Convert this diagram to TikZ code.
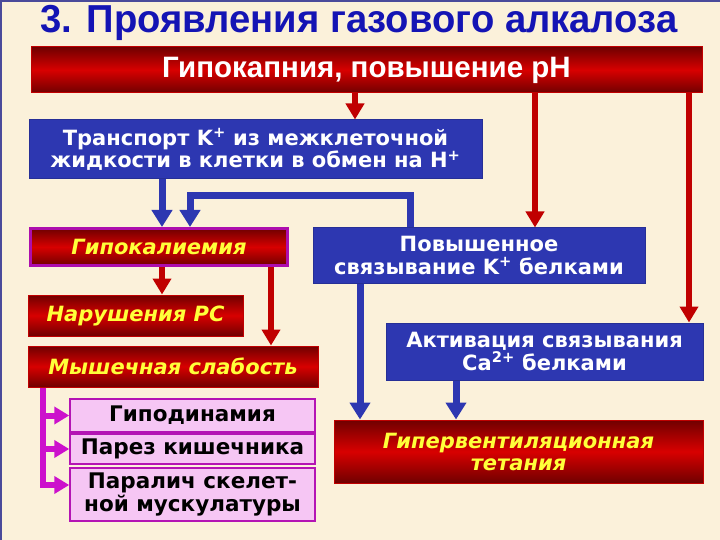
\documentclass[tikz,border=0pt]{standalone}
\usepackage{fontspec}
\setmainfont{DejaVu Sans}
\newfontfamily\titlefont[FakeStretch=0.98]{Liberation Sans}
\newfontfamily\arialfont{Liberation Sans}
\usetikzlibrary{arrows.meta}
\definecolor{cbg}{HTML}{FBF1DA}
\definecolor{cframe}{HTML}{4A4A9A}
\definecolor{ctitle}{HTML}{1414B4}
\definecolor{cblue}{HTML}{2D37B1}
\definecolor{cred}{HTML}{C00000}
\definecolor{cdark}{HTML}{700000}
\definecolor{cbright}{HTML}{D80000}
\definecolor{cmag}{HTML}{CC11CC}
\definecolor{cpink}{HTML}{F6C6F4}
\definecolor{cpinkline}{HTML}{B414B4}
\definecolor{cyellow}{HTML}{FFFF3A}
\tikzset{
  every picture/.style={x=1pt, y=-1pt, line join=miter},
  titletext/.style={text=ctitle, font=\titlefont\bfseries\fontsize{39}{40}\selectfont, inner sep=0pt},
  bluebox/.style={draw=cblue!85!black, fill=cblue, line width=1pt, text=white, align=center, inner sep=0pt,
    font=\bfseries\fontsize{21}{22.5}\selectfont},
  redbox/.style={draw=cred, line width=1pt, top color=cdark, bottom color=cdark, middle color=cbright,
    text=cyellow, align=center, inner sep=0pt, font=\bfseries\itshape\fontsize{21}{22}\selectfont},
  pinkbox/.style={draw=cpinkline, fill=cpink, line width=1.5pt, text=black, align=center, inner sep=0pt,
    font=\bfseries\fontsize{21.5}{22.5}\selectfont},
  redarrow/.style={draw=cred, line width=6pt, -{Triangle[width=18pt,length=16pt]}},
  bluearrow/.style={draw=cblue, line width=7pt, -{Triangle[width=20pt,length=17pt]}},
  magarrow/.style={draw=cmag, line width=6pt, -{Triangle[width=17pt,length=15pt]}},
}
\begin{document}
\begin{tikzpicture}
  \useasboundingbox (0,0) rectangle (720,540);
  \fill[cbg] (0,0) rectangle (720,540);
  \draw[cframe, line width=2pt] (1,540) -- (1,1) -- (720,1);

  \node[titletext, anchor=base] (title) at (359,33) {3. Проявления газового алкалоза};

  \node[redbox, text=white, font=\arialfont\bfseries\fontsize{29.5}{30}\selectfont,
    minimum width=671pt, minimum height=46pt] (top) at (366.5,70) {Гипокапния, повышение pH};
  \node[bluebox, minimum width=453pt, minimum height=59pt] (tr) at (255.5,149.5)
    {Транспорт K\textsuperscript{+} из межклеточной\\жидкости в клетки в обмен на H\textsuperscript{+}};
  \node[redbox, draw=cmag!85!black, line width=3pt, minimum width=257pt, minimum height=37pt] (hk) at (159,247) {Гипокалиемия};
  \node[bluebox, minimum width=332pt, minimum height=55pt] (pb) at (479,255.5)
    {Повышенное\\связывание K\textsuperscript{+} белками};
  \node[redbox, minimum width=215pt, minimum height=41pt] (rs) at (135.5,315.5) {Нарушения РС};
  \node[redbox, minimum width=290pt, minimum height=41pt] (ms) at (173,366.5) {Мышечная слабость};
  \node[bluebox, minimum width=317pt, minimum height=57pt] (ak) at (544.5,351.5)
    {Активация связывания\\Ca\textsuperscript{2+} белками};
  \node[redbox, minimum width=369pt, minimum height=63pt] (gt) at (518.5,451.5)
    {Гипервентиляционная\\тетания};
  \node[pinkbox, minimum width=245pt, minimum height=33pt] (p1) at (192.5,415.5) {Гиподинамия};
  \node[pinkbox, minimum width=245pt, minimum height=30pt] (p2) at (192.5,449) {Парез кишечника};
  \node[pinkbox, minimum width=245pt, minimum height=53pt] (p3) at (192.5,494.5) {Паралич скелет-\\ной мускулатуры};

  \coordinate (xa) at (355,0);
  \coordinate (xb) at (535,0);
  \coordinate (xc) at (689,0);
  \coordinate (xd) at (162,0);
  \coordinate (xe) at (190,0);
  \coordinate (xf) at (410,0);
  \coordinate (xg) at (271,0);
  \coordinate (xh) at (43,0);
  \coordinate (xi) at (360,0);
  \coordinate (xj) at (456,0);

  \draw[redarrow] (top.south -| xa) -- (tr.north -| xa);
  \draw[redarrow] (top.south -| xb) -- (pb.north -| xb);
  \draw[redarrow] (top.south -| xc) -- (ak.north -| xc);
  \draw[bluearrow] (tr.south -| xd) -- (hk.north -| xd);
  \draw[bluearrow] (pb.north -| xf) -- ++(0,-32) -| (hk.north -| xe);
  \draw[redarrow] (hk.south -| xd) -- (rs.north -| xd);
  \draw[redarrow] (hk.south -| xg) -- (ms.north -| xg);
  \draw[magarrow] (ms.south -| xh) |- (p1.west);
  \draw[magarrow] (ms.south -| xh) |- (p2.west);
  \draw[magarrow] (ms.south -| xh) |- ([yshift=9.5pt]p3.west);
  \draw[bluearrow] (pb.south -| xi) -- (gt.north -| xi);
  \draw[bluearrow] (ak.south -| xj) -- (gt.north -| xj);
\end{tikzpicture}
\end{document}
